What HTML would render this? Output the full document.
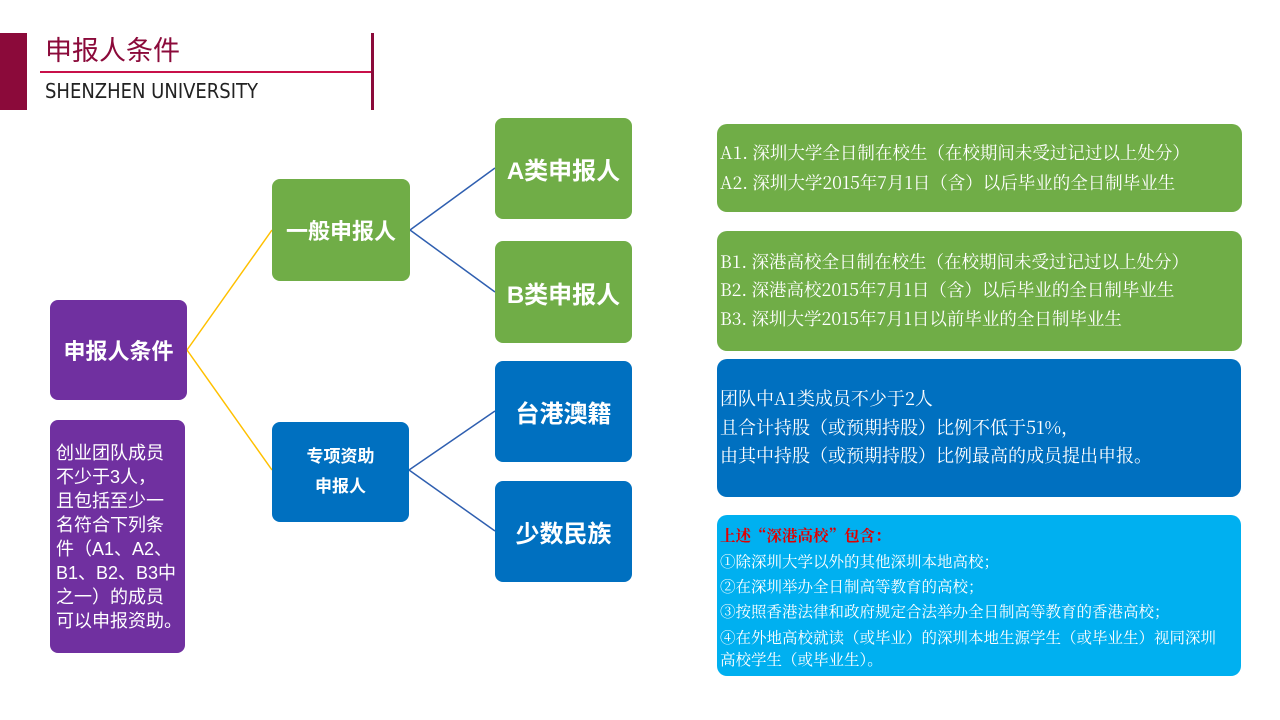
<!DOCTYPE html>
<html><head><meta charset="utf-8"><style>
body{margin:0;width:1280px;height:720px;background:#fff;position:relative;overflow:hidden;font-family:"Liberation Sans","Noto Sans CJK SC",sans-serif}
.a{position:absolute}
.n{position:absolute;border-radius:8px;color:#fff;font-weight:bold;display:flex;align-items:center;justify-content:center;text-align:center}
.g{background:#70ad47}.b{background:#0070c0}.p{background:#7030a0}
.r{position:absolute;border-radius:10px;color:#fff;font-family:"Noto Serif CJK SC",serif;font-size:17.5px}
.r div{position:absolute;left:3px;white-space:nowrap}
</style></head><body>
<div class="a" style="left:0;top:33px;width:27px;height:77px;background:#8b0a3a"></div>
<div class="a" style="left:45px;top:31px;font-size:27px;color:#8b0a3a;line-height:36px;font-family:'Noto Sans CJK SC',sans-serif">申报人条件</div>
<div class="a" style="left:40px;top:71px;width:333px;height:2px;background:#c8104a"></div>
<div class="a" style="left:371px;top:33px;width:3px;height:77px;background:#8b0a3a"></div>
<div class="a" style="left:45px;top:78px;font-size:20px;color:#222;line-height:26px;font-family:'DejaVu Sans Condensed','Liberation Sans',sans-serif;font-weight:200">SHENZHEN UNIVERSITY</div>
<svg class="a" style="left:0;top:0" width="1280" height="720">
<g fill="none" stroke-width="1.5">
<path d="M187 350L272 230M187 350L272 470" stroke="#ffc000"/>
<path d="M410 230L495 168M410 230L495 292M409 470L495 411M409 470L495 531" stroke="#2f5fb0"/>
</g></svg>
<div class="n p" style="left:50px;top:300px;width:137px;height:100px;font-size:22px">申报人条件</div>
<div class="n p" style="left:50px;top:420px;width:135px;height:233px;font-size:18px;font-weight:normal;line-height:24px;text-align:left;padding:0 0 0 6px;box-sizing:border-box;justify-content:flex-start;white-space:nowrap">创业团队成员<br>不少于3人，<br>且包括至少一<br>名符合下列条<br>件（A1、A2、<br>B1、B2、B3中<br>之一）的成员<br>可以申报资助。</div>
<div class="n g" style="left:272px;top:179px;width:138px;height:102px;font-size:22px">一般申报人</div>
<div class="n b" style="left:272px;top:422px;width:137px;height:100px;font-size:17px;line-height:30px">专项资助<br>申报人</div>
<div class="n g" style="left:495px;top:118px;width:137px;height:101px;font-size:24px">A类申报人</div>
<div class="n g" style="left:495px;top:241px;width:137px;height:102px;font-size:24px">B类申报人</div>
<div class="n b" style="left:495px;top:361px;width:137px;height:101px;font-size:24px">台港澳籍</div>
<div class="n b" style="left:495px;top:481px;width:137px;height:101px;font-size:24px">少数民族</div>
<div class="r g" style="left:717px;top:124px;width:525px;height:88px">
<div style="top:16px">A1. 深圳大学全日制在校生（在校期间未受过记过以上处分）</div>
<div style="top:46px">A2. 深圳大学2015年7月1日（含）以后毕业的全日制毕业生</div></div>
<div class="r g" style="left:717px;top:231px;width:525px;height:120px">
<div style="top:18px">B1. 深港高校全日制在校生（在校期间未受过记过以上处分）</div>
<div style="top:46px">B2. 深港高校2015年7月1日（含）以后毕业的全日制毕业生</div>
<div style="top:75px">B3. 深圳大学2015年7月1日以前毕业的全日制毕业生</div></div>
<div class="r b" style="left:717px;top:359px;width:524px;height:138px;font-size:18px">
<div style="top:26px">团队中A1类成员不少于2人</div>
<div style="top:55px">且合计持股（或预期持股）比例不低于51%，</div>
<div style="top:83px">由其中持股（或预期持股）比例最高的成员提出申报。</div></div>
<div class="r" style="left:717px;top:515px;width:524px;height:161px;background:#00b0f0;font-size:15.5px">
<div style="top:9px;color:#e00000;font-weight:bold">上述“深港高校”包含：</div>
<div style="top:35px">①除深圳大学以外的其他深圳本地高校；</div>
<div style="top:60px">②在深圳举办全日制高等教育的高校；</div>
<div style="top:85px">③按照香港法律和政府规定合法举办全日制高等教育的香港高校；</div>
<div style="top:111px">④在外地高校就读（或毕业）的深圳本地生源学生（或毕业生）视同深圳</div>
<div style="top:133px">高校学生（或毕业生）。</div></div>
</body></html>
